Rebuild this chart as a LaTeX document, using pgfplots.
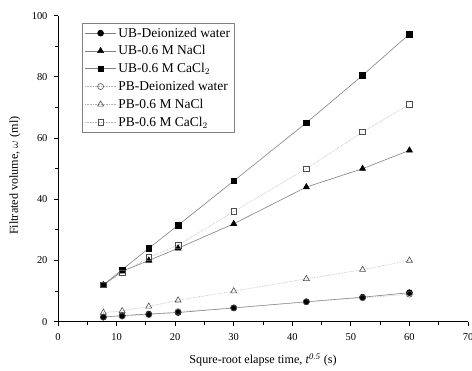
\documentclass[border=0pt]{standalone}
\usepackage{pgfplots}
\pgfplotsset{compat=1.18}
\usepackage{fontspec}
\setmainfont{Liberation Serif}
\begin{document}
\begin{tikzpicture}
\begin{axis}[
  name=ax,
  scale only axis, width=410bp, height=306bp,
  xmin=0, xmax=70, ymin=0, ymax=100,
  axis lines=left, axis line style={-, line width=0.9pt},
  tick align=outside, minor x tick num=1, minor y tick num=1,
  xtick={0,10,...,70}, ytick={0,20,...,100},
  tick style={black, line width=0.9pt},
  major tick length=4bp, minor tick length=3bp,
  /pgf/number format/assume math mode=true,
  ticklabel style={font=\fontsize{10.5}{12}\selectfont},
  xticklabel style={yshift=-4bp},
  yticklabel style={xshift=-3bp},
  xlabel={Squre-root elapse time, \textit{t}$^{\mathit{0.5}}$ (s)},
  ylabel={Filtrated volume, $\omega$ (ml)},
  every axis x label/.style={at={(axis description cs:0.5,0)}, anchor=center, yshift=-38.5bp, font=\fontsize{12.2}{14}\selectfont},
  every axis y label/.style={at={(axis description cs:0,0.5)}, anchor=center, rotate=90, yshift=43bp, xshift=-7bp, font=\fontsize{12.2}{14}\selectfont},
  legend style={at={(axis cs:4.1,97.6)}, anchor=north west, draw=gray, font=\fontsize{13.5}{15.5}\selectfont, row sep=3pt, inner sep=2.5pt},
  legend cell align=left,
  legend image code/.code={\draw[mark repeat=2,mark phase=2] plot coordinates {(0cm,0cm)(0.55cm,0cm)(1.1cm,0cm)};},
  every axis plot/.append style={line width=0.6pt},
]
\addplot[gray, mark=*, mark options={solid, fill=black, draw=black}, mark size=3] coordinates {(7.75,1.5)(10.95,2)(15.5,2.5)(20.5,3)(30,4.5)(42.4,6.5)(52,8)(60,9.5)};
\addlegendentry{UB-Deionized water}
\addplot[gray, mark=triangle*, mark options={solid, fill=black, draw=black}, mark size=3.5] coordinates {(7.75,12)(10.95,16.5)(15.5,20)(20.5,24)(30,32)(42.4,44)(52,50)(60,56)};
\addlegendentry{UB-0.6 M NaCl}
\addplot[gray, mark=square*, mark options={solid, fill=black, draw=black}, mark size=2.8] coordinates {(7.75,12)(10.95,17)(15.5,24)(20.5,31.5)(30,46)(42.4,65)(52,80.5)(60,94)};
\addlegendentry{UB-0.6 M CaCl$_2$}
\addplot[gray!60, densely dotted, mark=o, mark options={solid, fill=white, draw=black!70}, mark size=3] coordinates {(7.75,1.5)(10.95,1.8)(15.5,2.3)(20.5,3.3)(30,4.5)(42.4,6.5)(52,7.8)(60,9)};
\addlegendentry{PB-Deionized water}
\addplot[gray!60, densely dotted, mark=triangle, mark options={solid, fill=white, draw=black!70}, mark size=3.5] coordinates {(7.75,3)(10.95,3.5)(15.5,5)(20.5,7)(30,10)(42.4,14)(52,17)(60,20)};
\addlegendentry{PB-0.6 M NaCl}
\addplot[gray!60, densely dotted, mark=square, mark options={solid, fill=white, draw=black!70}, mark size=2.8] coordinates {(7.75,12)(10.95,16)(15.5,21)(20.5,25)(30,36)(42.4,50)(52,62)(60,71)};
\addlegendentry{PB-0.6 M CaCl$_2$}
\end{axis}
\pgfresetboundingbox
\path[use as bounding box] ([shift={(-58bp,-49.3bp)}]ax.south west) rectangle ([shift={(4bp,15.7bp)}]ax.north east);
\end{tikzpicture}
\end{document}
